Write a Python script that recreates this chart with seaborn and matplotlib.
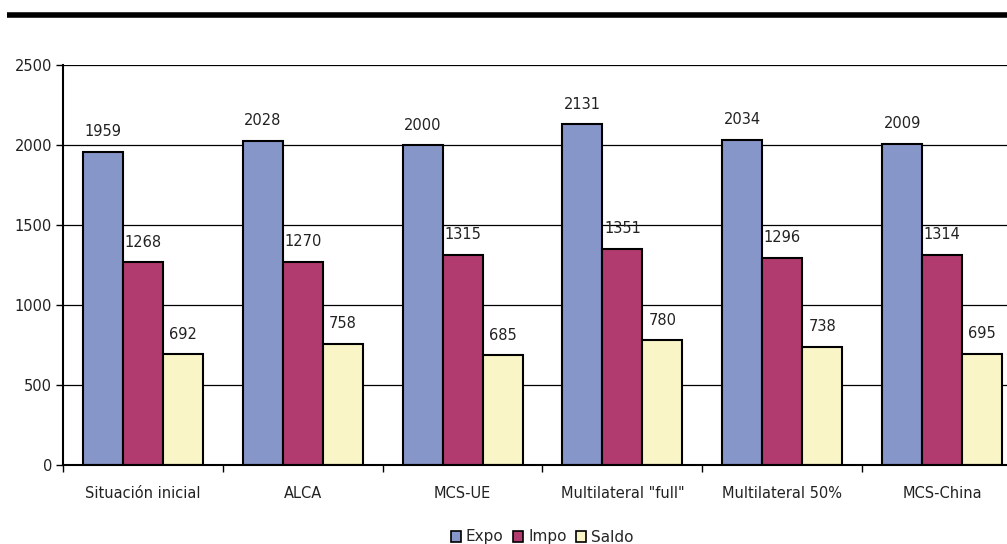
import matplotlib
matplotlib.use("Agg")
import matplotlib.pyplot as plt
from matplotlib.lines import Line2D
from matplotlib.patches import Patch
import seaborn as sns
import pandas as pd
import numpy as np

categories = ["Situación inicial", "ALCA", "MCS-UE", "Multilateral \"full\"", "Multilateral 50%", "MCS-China"]
series = ["Expo", "Impo", "Saldo"]
expo = [1959, 2028, 2000, 2131, 2034, 2009]
impo = [1268, 1270, 1315, 1351, 1296, 1314]
saldo = [692, 758, 685, 780, 738, 695]
colors = ["#8796C9", "#B13B6E", "#F9F5C6"]

df = pd.DataFrame({
    "cat": categories * 3,
    "serie": [s for s in series for _ in categories],
    "val": expo + impo + saldo,
})

sns.set_theme(style="white")
plt.rcParams['font.family'] = ['DejaVu Sans']

W, H = 1007, 544
fs = 10.5
fig = plt.figure(figsize=(W / 100, H / 100), dpi=100)
ax = fig.add_axes([63 / W, 1 - 465 / H, (1022 - 63) / W, 400 / H])

sns.barplot(data=df, x="cat", y="val", hue="serie", order=categories, hue_order=series,
            palette=colors, saturation=1, width=0.75, edgecolor="black", linewidth=1.5,
            ax=ax, legend=False)

for c in ax.containers:
    ax.bar_label(c, labels=[f"{int(v)}" for v in c.datavalues], padding=9, fontsize=fs, color="#222222")

ax.set_xlim(-0.5, 5.5)
ax.set_ylim(0, 2500)
ax.set_yticks(np.arange(0, 2501, 500))
ax.yaxis.grid(True, color="black", linewidth=0.9)
ax.set_axisbelow(True)
ax.set_xlabel("")
ax.set_ylabel("")
for s in ["left", "bottom"]:
    ax.spines[s].set_color("black")
    ax.spines[s].set_linewidth(1.5)
ax.spines["top"].set_visible(False)
ax.spines["right"].set_visible(False)

ax.tick_params(axis="x", which="major", length=0, pad=15, labelsize=fs, colors="#222222")
ax.set_xticks(np.arange(-0.5, 6.0, 1.0), minor=True)
ax.tick_params(axis="x", which="minor", length=5, width=1, color="black", direction="out", bottom=True)
ax.tick_params(axis="y", length=5, width=1, color="black", direction="out", left=True, labelsize=fs, pad=3, colors="#222222")

fig.add_artist(Line2D([7 / W, 1.0], [1 - 15 / H, 1 - 15 / H], color="black", linewidth=4,
                      solid_capstyle="butt", transform=fig.transFigure))

handles = [Patch(facecolor=col, edgecolor="black", linewidth=1.2) for col in colors]
fig.legend(handles, series, loc="center", bbox_to_anchor=(542 / W, 1 - 537 / H), ncol=3, frameon=False,
           handlelength=0.7, handleheight=0.7, handletextpad=0.3, columnspacing=0.6, fontsize=fs + 0.5)

fig.savefig("out.png", dpi=100)
